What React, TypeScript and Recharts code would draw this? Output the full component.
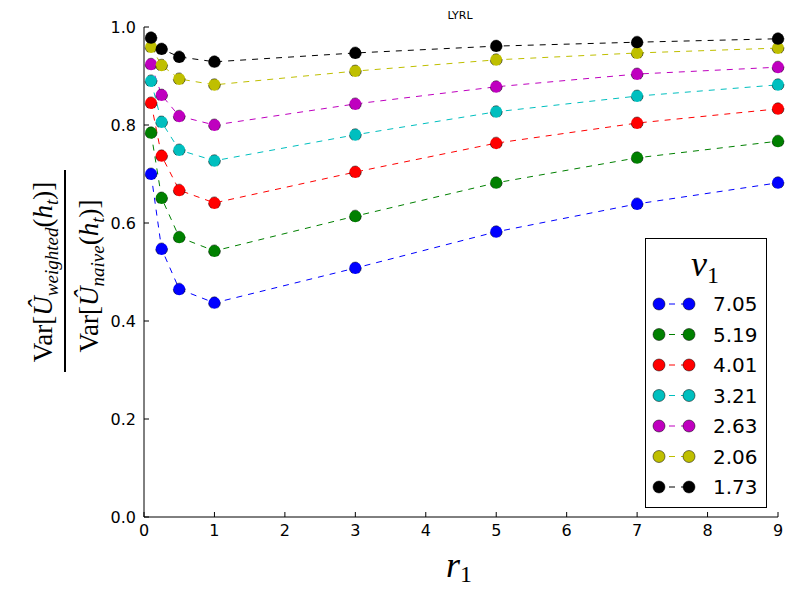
import React from "react";
import { LineChart, Line, XAxis, YAxis, Customized } from "recharts";

// r_1 values (x) and one series per v_1
const R1 = [0.1, 0.25, 0.5, 1, 3, 5, 7, 9];
const V1_LABELS = ["7.05", "5.19", "4.01", "3.21", "2.63", "2.06", "1.73"];
const COLORS = ["#0000ff", "#008000", "#ff0000", "#00bfbf", "#bf00bf", "#bfbf00", "#000000"];

const V705 = [0.7, 0.547, 0.465, 0.437, 0.508, 0.582, 0.639, 0.682];
const V519 = [0.784, 0.651, 0.571, 0.543, 0.614, 0.682, 0.733, 0.767];
const V401 = [0.845, 0.737, 0.667, 0.641, 0.704, 0.763, 0.804, 0.833];
const V321 = [0.89, 0.806, 0.749, 0.727, 0.78, 0.827, 0.859, 0.882];
const V263 = [0.924, 0.861, 0.818, 0.8, 0.843, 0.878, 0.904, 0.918];
const V206 = [0.959, 0.922, 0.894, 0.882, 0.91, 0.933, 0.947, 0.957];
const V173 = [0.978, 0.955, 0.939, 0.929, 0.947, 0.961, 0.969, 0.976];
const SERIES = [V705, V519, V401, V321, V263, V206, V173];

const X_TICKS = [0, 1, 2, 3, 4, 5, 6, 7, 8, 9];
const Y_TICKS = [0, 0.2, 0.4, 0.6, 0.8, 1.0];

const data = R1.map((r, i) => {
  const row: Record<string, number> = { r };
  SERIES.forEach((s, j) => (row["s" + j] = s[i]));
  return row;
});

const SANS = "DejaVu Sans";
const SERIF = "Liberation Serif";
const tickStyle = { fontSize: 16, fill: "#000", fontFamily: SANS };

function YLabel() {
  const fs = 27;
  const sub = 19;
  const part = (name: string) => (
    <text textAnchor="middle" fontFamily={SERIF} fontSize={fs} fill="#000">
      Var[<tspan fontStyle="italic">Û</tspan>
      <tspan fontStyle="italic" fontSize={sub} dy={6}>{name}</tspan>
      <tspan dy={-6}>(</tspan>
      <tspan fontStyle="italic">h</tspan>
      <tspan fontStyle="italic" fontSize={sub} dy={6}>t</tspan>
      <tspan dy={-6}>)]</tspan>
    </text>
  );
  return (
    <g>
      <g transform="translate(52,272) rotate(-90)">{part("weighted")}</g>
      <line x1={65} x2={65} y1={170} y2={372} stroke="#000" strokeWidth={2} />
      <g transform="translate(98,276) rotate(-90)">{part("naive")}</g>
    </g>
  );
}

function Legend() {
  const top = 304;
  const step = 30.5;
  return (
    <g>
      <rect x={645.5} y={238.5} width={121} height={269} fill="#fff" stroke="#000" strokeWidth={1} />
      <text x={705} y={276} textAnchor="middle" fontFamily={SERIF} fontSize={36} fill="#000">
        <tspan fontStyle="italic">v</tspan>
        <tspan fontSize={24} dy={7}>1</tspan>
      </text>
      {V1_LABELS.map((lab, i) => {
        const y = top + i * step;
        const c = COLORS[i];
        return (
          <g key={lab}>
            <line x1={659} x2={689} y1={y} y2={y} stroke={c} strokeWidth={1} strokeDasharray="6 6" strokeDashoffset={-10} />
            <circle cx={659} cy={y} r={6} fill={c} stroke="#000" strokeWidth={0.5} />
            <circle cx={689} cy={y} r={6} fill={c} stroke="#000" strokeWidth={0.5} />
            <text x={713} y={y + 7} fontFamily={SANS} fontSize={20} fill="#000">{lab}</text>
          </g>
        );
      })}
    </g>
  );
}

function Labels() {
  return (
    <g>
      <text x={460} y={19} textAnchor="middle" fontFamily={SANS} fontSize={11} fill="#000">LYRL</text>
      <text x={446} y={577} fontFamily={SERIF} fontSize={36} fill="#000">
        <tspan fontStyle="italic">r</tspan>
        <tspan fontSize={24} dy={5}>1</tspan>
      </text>
    </g>
  );
}

export default function App() {
  return (
    <div style={{ position: "absolute", left: 0, top: 0, width: 800, height: 600, background: "#fff" }}>
      <LineChart width={800} height={600} data={data} margin={{ top: 27, right: 22, bottom: 53, left: 84 }}>
        <XAxis
          xAxisId="b"
          type="number"
          dataKey="r"
          domain={[0, 9]}
          ticks={X_TICKS}
          height={30}
          tickSize={-5}
          tickMargin={13}
          tick={tickStyle}
          axisLine={{ stroke: "#000", strokeWidth: 1 }}
          tickLine={{ stroke: "#000" }}
        />
        <XAxis
          xAxisId="t"
          orientation="top"
          type="number"
          dataKey="r"
          domain={[0, 9]}
          ticks={X_TICKS}
          height={0}
          tickSize={-5}
          tickFormatter={() => ""}
          axisLine={{ stroke: "#000", strokeWidth: 1 }}
          tickLine={{ stroke: "#000" }}
        />
        <YAxis
          yAxisId="l"
          type="number"
          domain={[0, 1]}
          ticks={Y_TICKS}
          width={60}
          tickSize={-5}
          tickMargin={13}
          tick={tickStyle}
          tickFormatter={(v: number) => v.toFixed(1)}
          axisLine={{ stroke: "#000", strokeWidth: 1 }}
          tickLine={{ stroke: "#000" }}
        />
        <YAxis
          yAxisId="r"
          orientation="right"
          type="number"
          domain={[0, 1]}
          ticks={Y_TICKS}
          width={0}
          tickSize={-5}
          tickFormatter={() => ""}
          axisLine={{ stroke: "#000", strokeWidth: 1 }}
          tickLine={{ stroke: "#000" }}
        />
        {SERIES.map((_, j) => (
          <Line
            key={j}
            xAxisId="b"
            yAxisId="l"
            type="linear"
            dataKey={"s" + j}
            stroke={COLORS[j]}
            strokeWidth={1}
            strokeDasharray="6 6"
            dot={{ r: 6, fill: COLORS[j], stroke: "#000", strokeWidth: 0.5 }}
            activeDot={false}
            isAnimationActive={false}
          />
        ))}
        <Customized component={<YLabel />} />
        <Customized component={<Legend />} />
        <Customized component={<Labels />} />
      </LineChart>
    </div>
  );
}
